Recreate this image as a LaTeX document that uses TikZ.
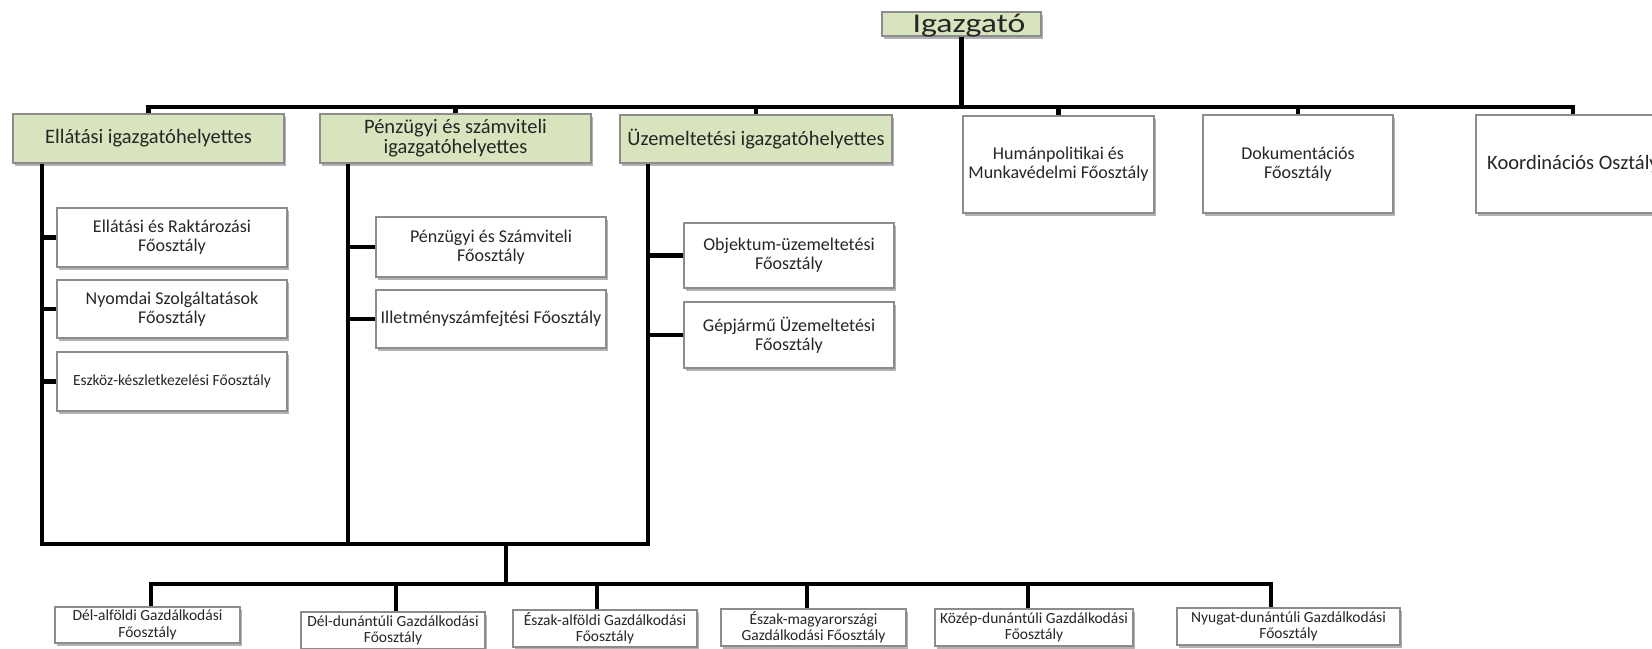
\documentclass[tikz,border=0pt]{standalone}
\usepackage{fontspec}
\setmainfont{Carlito}
\usetikzlibrary{shadows}
\definecolor{headgreen}{RGB}{215,228,189}
\definecolor{boxgray}{RGB}{140,140,140}
\newcommand\fosz{Főosztály}

\begin{document}
\begin{tikzpicture} [x = 1pt, y = -1pt,
  bar/.style = {line width = 4.8pt},
  boxshadow/.style = {drop shadow = {shadow xshift = 1.5pt, shadow yshift = -2.5pt, opacity = .3, fill = black}},
  head/.style = {draw = boxgray, line width = 1.2pt, fill = headgreen, boxshadow, align = center, inner sep = 1pt, text = black!85, font = \fontsize{20.5}{20}\selectfont},
  unit/.style = {draw = boxgray, line width = 1.2pt, fill = white, boxshadow, align = center, inner sep = 1pt, text = black!85, font = \fontsize{18}{19}\selectfont},
  region/.style = {unit, font = \fontsize{15.5}{16.5}\selectfont}]
\useasboundingbox (0,0) rectangle (1652,648);
\clip (0,0) rectangle (1652,648);
\node[head, minimum width = 159pt, minimum height = 24pt, text height = 19pt, text depth = 3pt, font = \fontsize{27}{27}\selectfont] (igaz) at (961.5,24) {\hspace*{15pt}\scalebox{1.25}[1]{Igazgató}};
\node[head, minimum width = 271pt, minimum height = 49pt] (ell) at (148.5,138.5) {Ellátási igazgatóhelyettes};
\node[head, minimum width = 271pt, minimum height = 49pt] (penz) at (455.5,138.5) {Pénzügyi és számviteli\\igazgatóhelyettes};
\node[head, minimum width = 272pt, minimum height = 48pt] (uzem) at (756,139) {Üzemeltetési igazgatóhelyettes};
\node[unit, minimum width = 191pt, minimum height = 97pt] (human) at (1058.5,164.5) {Humánpolitikai és\\Munkavédelmi \fosz};
\node[unit, minimum width = 190pt, minimum height = 98pt] (dok) at (1298,164) {Dokumentációs\\\fosz};
\node[unit, minimum width = 194pt, minimum height = 98pt, font = \fontsize{20.5}{20}\selectfont] (koord) at (1573,164) {Koordinációs Osztály};
\node[unit, minimum width = 230pt, minimum height = 59pt] (rakt) at (172,237.5) {Ellátási és Raktározási\\\fosz};
\node[unit, minimum width = 230pt, minimum height = 58pt] (nyomda) at (172,309) {Nyomdai Szolgáltatások\\\fosz};
\node[unit, minimum width = 230pt, minimum height = 59pt, font = \fontsize{15.5}{16}\selectfont] (eszkoz) at (172,381.5) {Eszköz-készletkezelési \fosz};
\node[unit, minimum width = 230pt, minimum height = 60pt] (szamv) at (491,247) {Pénzügyi és Számviteli\\\fosz};
\node[unit, minimum width = 230pt, minimum height = 58pt] (illet) at (491,319) {Illetményszámfejtési \fosz};
\node[unit, minimum width = 210pt, minimum height = 65pt] (objekt) at (789,255.5) {Objektum-üzemeltetési\\\fosz};
\node[unit, minimum width = 210pt, minimum height = 66pt] (gepj) at (789,335) {Gépjármű Üzemeltetési\\\fosz};
\node[region, minimum width = 185pt, minimum height = 36pt] (delalf) at (147.5,625) {Dél-alföldi Gazdálkodási\\\fosz};
\node[region, minimum width = 184pt, minimum height = 37pt] (deldun) at (393,630.5) {Dél-dunántúli Gazdálkodási\\\fosz};
\node[region, minimum width = 184pt, minimum height = 37pt] (eszalf) at (605,628.5) {Észak-alföldi Gazdálkodási\\\fosz};
\node[region, minimum width = 185pt, minimum height = 37pt] (eszmagy) at (813.5,627.5) {Észak-magyarországi\\Gazdálkodási \fosz};
\node[region, minimum width = 198pt, minimum height = 37pt] (kozdun) at (1034,627.5) {Közép-dunántúli Gazdálkodási\\\fosz};
\node[region, minimum width = 223pt, minimum height = 37pt] (nyudun) at (1288.5,626.5) {Nyugat-dunántúli Gazdálkodási\\\fosz};
\coordinate (bus) at (961.5,107);
\coordinate (c1) at (42,544);
\coordinate (c2) at (348,544);
\coordinate (c3) at (648,544);
\coordinate (low) at (506,584);
\coordinate (t1) at (151,584);
\coordinate (t2) at (396,584);
\coordinate (t3) at (597,584);
\coordinate (t4) at (807,584);
\coordinate (t5) at (1028,584);
\coordinate (t6) at (1271,584);
\draw [bar](igaz.south) -- (igaz.south |- bus);
\draw [bar](ell.north) -- (ell.north |- bus) -- (koord.north |- bus) -- (koord.north);
\draw [bar](penz.north) -- (penz.north |- bus);
\draw [bar](uzem.north) -- (uzem.north |- bus);
\draw [bar](human.north) -- (human.north |- bus);
\draw [bar](dok.north) -- (dok.north |- bus);
\draw [bar](ell.south -| c1) -- (c1) -- (c3) -- (uzem.south -| c3);
\draw [bar](penz.south -| c2) -- (c2);
\draw [bar](rakt.west -| c1) -- (rakt.west);
\draw [bar](nyomda.west -| c1) -- (nyomda.west);
\draw [bar](eszkoz.west -| c1) -- (eszkoz.west);
\draw [bar](szamv.west -| c2) -- (szamv.west);
\draw [bar](illet.west -| c2) -- (illet.west);
\draw [bar](objekt.west -| c3) -- (objekt.west);
\draw [bar](gepj.west -| c3) -- (gepj.west);
\draw [bar](c1 -| low) -- (low);
\draw [bar](delalf.north -| t1) -- (t1) -- (t6) -- (nyudun.north -| t6);
\draw [bar](deldun.north -| t2) -- (t2);
\draw [bar](eszalf.north -| t3) -- (t3);
\draw [bar](eszmagy.north -| t4) -- (t4);
\draw [bar](kozdun.north -| t5) -- (t5);
\end{tikzpicture}
\end{document}
